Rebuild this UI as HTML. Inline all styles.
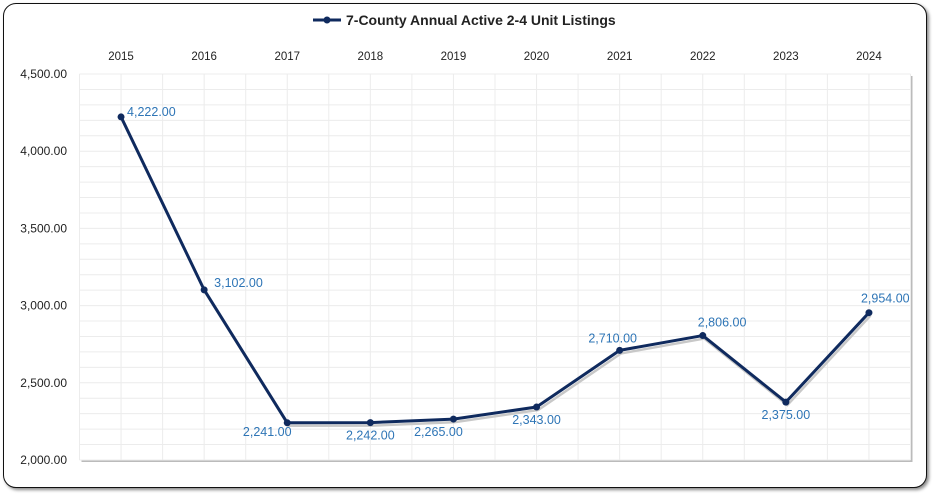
<!DOCTYPE html>
<html><head><meta charset="utf-8"><style>
body{margin:0;background:#fff;width:935px;height:497px;overflow:hidden;font-family:"Liberation Sans",sans-serif}
#frame{position:absolute;left:3px;top:3px;width:922px;height:483px;border:1.5px solid #111;border-radius:13px;box-shadow:2px 2px 3px #888;background:#fff}
svg{position:absolute;left:0;top:0}
</style></head><body>
<div id="frame"></div>
<svg id="chart" width="935" height="497"></svg>
<script>
const categories=["2015","2016","2017","2018","2019","2020","2021","2022","2023","2024"];
const values=[4222,3102,2241,2242,2265,2343,2710,2806,2375,2954];
const yTicks=[2000,2500,3000,3500,4000,4500];
const labelOffsets=[[6,-1],[10,-3],[-30,13],[-5,17],[-25,17],[-5,17],[-17,-8],[-5,-9],[-5,17],[-8,-10]];
const NS="http://www.w3.org/2000/svg";
const svg=document.getElementById('chart');
const L=79.5,R=910.5,T=74,B=460,ymin=2000,ymax=4500;
const bw=(R-L)/categories.length;
const x=i=>L+bw*(i+0.5);
const y=v=>B-(v-ymin)/(ymax-ymin)*(B-T);
function mk(t,a,p){const e=document.createElementNS(NS,t);for(const k in a)e.setAttribute(k,a[k]);(p||svg).appendChild(e);return e;}
const fmt=v=>v.toLocaleString('en-US',{minimumFractionDigits:2,maximumFractionDigits:2});
const bg=mk('rect',{x:L+2,y:T+2,width:R-L,height:B-T,fill:'#bbb'});

const pa=mk('rect',{x:L,y:T,width:R-L,height:B-T,fill:'#fff'});

for(let v=ymin;v<=ymax;v+=100){const g=mk('line',{x1:L,x2:R,y1:y(v),y2:y(v),stroke:'#ececec','stroke-width':1});
}
for(let k=0;k<=categories.length*2;k++){const xx=L+bw/2*k;const g=mk('line',{x1:xx,x2:xx,y1:T,y2:B,stroke:'#ececec','stroke-width':1});
}
yTicks.forEach(v=>{const t=mk('text',{x:67,y:y(v)+4,'text-anchor':'end','font-size':12,fill:'#222'});t.textContent=fmt(v);
});
categories.forEach((c,i)=>{const t=mk('text',{x:x(i),y:60,'text-anchor':'middle','font-size':11.5,fill:'#222'});t.textContent=c;
});
const pts=values.map((v,i)=>x(i)+','+y(v)).join(' ');
const sh=mk('polyline',{points:values.map((v,i)=>(x(i)+1.5)+','+(y(v)+3)).join(' '),fill:'none',stroke:'#c8c8c8','stroke-width':2.5});

const ln=mk('polyline',{points:pts,fill:'none',stroke:'#0f2a5e','stroke-width':3,'stroke-linejoin':'round'});

values.forEach((v,i)=>{const c=mk('circle',{cx:x(i),cy:y(v),r:3.5,fill:'#0f2a5e'});

const o=labelOffsets[i];const t=mk('text',{x:x(i)+o[0],y:y(v)+o[1],'font-size':12.5,fill:'#2e75b6','text-anchor':o[0]<-10?'middle':'start'});
if(o[0]<-10){t.setAttribute('x',x(i)+o[0]+10);}
if(i>=2&&o[1]>0&&o[0]>=-5)t.setAttribute('text-anchor','middle'),t.setAttribute('x',x(i));
t.textContent=fmt(v);
});
const lg=mk('g',{});
mk('line',{x1:313,x2:341,y1:20,y2:20,stroke:'#0f2a5e','stroke-width':3},lg);
mk('circle',{cx:327,cy:20,r:3.5,fill:'#0f2a5e'},lg);
const lt=mk('text',{x:346,y:25,'font-size':14,'font-weight':'bold',fill:'#222'},lg);lt.textContent='7-County Annual Active 2-4 Unit Listings';
</script>
</body></html>
